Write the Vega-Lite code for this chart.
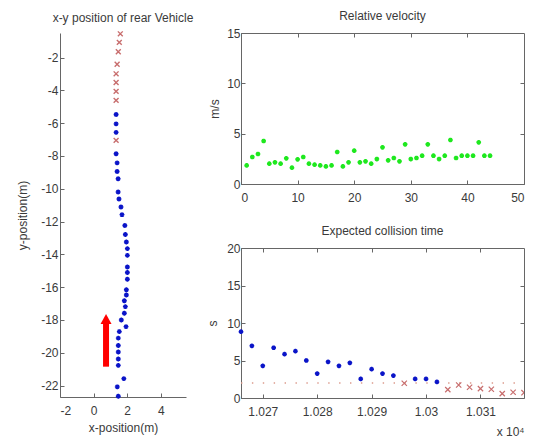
{
  "$schema": "https://vega.github.io/schema/vega-lite/v6.json",
  "background": "white",
  "padding": {"left": 16, "top": 9, "right": 2, "bottom": 2},
  "config": {
    "font": "Liberation Sans",
    "axis": {"labelFont": "Liberation Sans", "labelFontSize": 12, "labelColor": "#3a3a3a", "titleFont": "Liberation Sans", "titleFontSize": 12, "titleFontWeight": "normal", "titleColor": "#3a3a3a", "domainColor": "#666", "tickColor": "#666", "grid": false, "tickSize": -4, "labelPadding": 6, "titlePadding": 11, "labelOverlap": false},
    "axisX": {"labelPadding": 12},
    "title": {"font": "Liberation Sans", "fontSize": 12, "fontWeight": "normal", "color": "#3a3a3a", "offset": 4},
    "view": {"stroke": "#666", "strokeWidth": 1}
  },
  "datasets": {
    "path": [
      {"x": 1.59, "y": -0.55, "k": "r"}, {"x": 1.53, "y": -1.07, "k": "r"}, {"x": 1.47, "y": -1.64, "k": "r"}, {"x": 1.40, "y": -2.41, "k": "r"}, {"x": 1.34, "y": -2.99, "k": "r"}, {"x": 1.34, "y": -3.52, "k": "r"}, {"x": 1.34, "y": -4.06, "k": "r"}, {"x": 1.34, "y": -4.61, "k": "r"}, {"x": 1.34, "y": -7.05, "k": "r"},
      {"x": 1.34, "y": -5.47, "k": "b"}, {"x": 1.34, "y": -6.04, "k": "b"}, {"x": 1.34, "y": -6.56, "k": "b"}, {"x": 1.34, "y": -7.86, "k": "b"}, {"x": 1.40, "y": -8.42, "k": "b"}, {"x": 1.40, "y": -8.95, "k": "b"}, {"x": 1.46, "y": -9.39, "k": "b"}, {"x": 1.46, "y": -10.2, "k": "b"}, {"x": 1.51, "y": -10.62, "k": "b"}, {"x": 1.63, "y": -11.11, "k": "b"}, {"x": 1.69, "y": -11.58, "k": "b"}, {"x": 1.86, "y": -12.24, "k": "b"}, {"x": 1.89, "y": -12.79, "k": "b"}, {"x": 1.95, "y": -13.25, "k": "b"}, {"x": 2.01, "y": -13.65, "k": "b"}, {"x": 2.01, "y": -14.06, "k": "b"}, {"x": 2.01, "y": -14.77, "k": "b"}, {"x": 2.01, "y": -15.11, "k": "b"}, {"x": 2.01, "y": -15.52, "k": "b"}, {"x": 1.95, "y": -16.16, "k": "b"}, {"x": 1.95, "y": -16.48, "k": "b"}, {"x": 1.83, "y": -16.83, "k": "b"}, {"x": 1.89, "y": -17.19, "k": "b"}, {"x": 1.83, "y": -17.59, "k": "b"}, {"x": 1.65, "y": -18.0, "k": "b"}, {"x": 1.93, "y": -18.41, "k": "b"}, {"x": 1.53, "y": -18.71, "k": "b"}, {"x": 1.47, "y": -19.11, "k": "b"}, {"x": 1.47, "y": -19.56, "k": "b"}, {"x": 1.47, "y": -19.96, "k": "b"}, {"x": 1.47, "y": -20.38, "k": "b"}, {"x": 1.47, "y": -20.77, "k": "b"}, {"x": 1.80, "y": -21.58, "k": "b"}, {"x": 1.41, "y": -22.08, "k": "b"}, {"x": 1.47, "y": -22.65, "k": "b"}
    ],
    "arrow": [{"x": 0.74, "y": -20.85, "y2": -18.2, "yh": -17.94}],
    "vel": [
      {"t": 1, "v": 1.85}, {"t": 2, "v": 2.68}, {"t": 3, "v": 2.98}, {"t": 4, "v": 4.27}, {"t": 5, "v": 2.02}, {"t": 6, "v": 2.15}, {"t": 7, "v": 2.02}, {"t": 8, "v": 2.55}, {"t": 9, "v": 1.62}, {"t": 10, "v": 2.45}, {"t": 11, "v": 2.68}, {"t": 12, "v": 2.02}, {"t": 13, "v": 1.92}, {"t": 14, "v": 1.85}, {"t": 15, "v": 1.75}, {"t": 16, "v": 1.85}, {"t": 17, "v": 3.18}, {"t": 18, "v": 1.75}, {"t": 19, "v": 2.15}, {"t": 20, "v": 3.31}, {"t": 21, "v": 2.15}, {"t": 22, "v": 2.25}, {"t": 23, "v": 2.02}, {"t": 24, "v": 2.48}, {"t": 25, "v": 3.64}, {"t": 26, "v": 2.35}, {"t": 27, "v": 2.58}, {"t": 28, "v": 2.25}, {"t": 29, "v": 3.94}, {"t": 30, "v": 2.48}, {"t": 31, "v": 2.58}, {"t": 32, "v": 2.81}, {"t": 33, "v": 3.94}, {"t": 34, "v": 2.81}, {"t": 35, "v": 2.48}, {"t": 36, "v": 2.81}, {"t": 37, "v": 4.37}, {"t": 38, "v": 2.58}, {"t": 39, "v": 2.81}, {"t": 40, "v": 2.81}, {"t": 41, "v": 2.81}, {"t": 42, "v": 4.14}, {"t": 43, "v": 2.81}, {"t": 44, "v": 2.81}
    ],
    "ect_blue": [
      {"t": 10266, "s": 8.84}, {"t": 10268, "s": 6.96}, {"t": 10270, "s": 4.29}, {"t": 10272, "s": 6.70}, {"t": 10274, "s": 5.85}, {"t": 10276, "s": 6.25}, {"t": 10278, "s": 5.0}, {"t": 10280, "s": 3.26}, {"t": 10282, "s": 4.82}, {"t": 10284, "s": 4.29}, {"t": 10286, "s": 4.69}, {"t": 10288, "s": 2.54}, {"t": 10290, "s": 3.84}, {"t": 10292, "s": 3.26}, {"t": 10294, "s": 2.99}, {"t": 10298, "s": 2.54}, {"t": 10300, "s": 2.54}, {"t": 10302, "s": 2.14}
    ],
    "ect_red": [
      {"t": 10296, "s": 1.96}, {"t": 10304, "s": 1.12}, {"t": 10306, "s": 1.74}, {"t": 10308, "s": 1.43}, {"t": 10310, "s": 1.25}, {"t": 10312, "s": 1.16}, {"t": 10314, "s": 0.58}, {"t": 10316, "s": 0.76}, {"t": 10318, "s": 0.71}
    ],
    "thresh": [{"t": 10266, "s": 2}, {"t": 10318, "s": 2}]
  },
  "hconcat": [
    {
      "width": 126,
      "height": 364,
      "title": "x-y position of rear Vehicle",
      "view": {"stroke": null},
      "layer": [
        {
          "data": {"name": "path"},
          "mark": {"type": "point", "filled": false, "strokeWidth": 1.4, "size": 24, "opacity": 1},
          "encoding": {
            "x": {"field": "x", "type": "quantitative", "scale": {"domain": [-2, 5.5], "nice": false, "zero": false}, "axis": {"values": [-2, 0, 2, 4], "title": "x-position(m)", "labelExpr": "'' + datum.value", "titlePadding": 6}},
            "y": {"field": "y", "type": "quantitative", "scale": {"domain": [-22.7, -0.5], "nice": false, "zero": false}, "axis": {"tickCount": 11, "title": "y-position(m)", "labelExpr": "'' + datum.value", "labelOverlap": false, "labelBound": false, "labelFlush": false}},
            "shape": {"field": "k", "type": "nominal", "scale": {"domain": ["b", "r"], "range": ["M-1,0L1,0M0,-1L0,1M-0.7,-0.7L0.7,0.7M-0.7,0.7L0.7,-0.7", "M-1,-1L1,1M-1,1L1,-1"]}, "legend": null},
            "stroke": {"field": "k", "type": "nominal", "scale": {"domain": ["b", "r"], "range": ["#0a14c8", "#c86e6e"]}, "legend": null}
          }
        },
        {
          "data": {"name": "arrow"},
          "mark": {"type": "rule", "color": "#ff0000", "strokeWidth": 6, "strokeCap": "butt"},
          "encoding": {
            "x": {"field": "x", "type": "quantitative"},
            "y": {"field": "y", "type": "quantitative"},
            "y2": {"field": "y2"}
          }
        },
        {
          "data": {"name": "arrow"},
          "mark": {"type": "point", "shape": "M-1,0.9L0,-0.9L1,0.9Z", "filled": true, "color": "#ff0000", "size": 121, "opacity": 1},
          "encoding": {
            "x": {"field": "x", "type": "quantitative"},
            "y": {"field": "yh", "type": "quantitative"}
          }
        }
      ]
    },
    {
      "vconcat": [
        {
          "width": 283,
          "height": 151,
          "title": "Relative velocity",
          "layer": [
            {
              "data": {"name": "vel"},
              "mark": {"type": "point", "shape": "M-1,0L1,0M0,-1L0,1M-0.7,-0.7L0.7,0.7M-0.7,0.7L0.7,-0.7", "filled": false, "stroke": "#1ee81e", "strokeWidth": 1.5, "size": 22, "opacity": 1},
              "encoding": {
                "x": {"field": "t", "type": "quantitative", "scale": {"domain": [0, 50], "nice": false}, "axis": {"values": [0, 10, 20, 30, 40, 50], "title": null}},
                "y": {"field": "v", "type": "quantitative", "scale": {"domain": [0, 15], "nice": false}, "axis": {"values": [0, 5, 10, 15], "title": "m/s", "labelPadding": 5, "titlePadding": 5}}
              }
            },
            {
              "data": {"name": "vel"},
              "mark": {"type": "point", "opacity": 0},
              "encoding": {
                "x": {"field": "t", "type": "quantitative", "axis": {"orient": "top", "values": [10, 20, 30, 40], "labels": false, "domain": false, "title": null}},
                "y": {"field": "v", "type": "quantitative", "axis": {"orient": "right", "values": [5, 10], "labels": false, "domain": false, "title": null}}
              }
            }
          ],
          "resolve": {"axis": {"x": "independent", "y": "independent"}}
        },
        {
          "width": 283,
          "height": 150,
          "title": "Expected collision time",
          "layer": [
            {
              "data": {"name": "thresh"},
              "mark": {"type": "line", "stroke": "#dc9a8c", "strokeWidth": 1.3, "strokeDash": [1.4, 9.5]},
              "encoding": {
                "x": {"field": "t", "type": "quantitative", "scale": {"domain": [10266, 10318], "nice": false, "zero": false}, "axis": {"values": [10270, 10280, 10290, 10300, 10310], "labelExpr": "format(datum.value / 10000, '.4~f')", "title": "x 10⁴", "titleAnchor": "end", "titleAlign": "right", "titlePadding": 9}},
                "y": {"field": "s", "type": "quantitative", "scale": {"domain": [0, 20], "nice": false}, "axis": {"values": [0, 5, 10, 15, 20], "title": "s", "labelPadding": 5, "titlePadding": 7}}
              }
            },
            {
              "data": {"name": "ect_blue"},
              "mark": {"type": "point", "shape": "M-1,0L1,0M0,-1L0,1M-0.7,-0.7L0.7,0.7M-0.7,0.7L0.7,-0.7", "filled": false, "stroke": "#0a14c8", "strokeWidth": 1.5, "size": 22, "opacity": 1},
              "encoding": {
                "x": {"field": "t", "type": "quantitative", "axis": null},
                "y": {"field": "s", "type": "quantitative", "axis": null}
              }
            },
            {
              "data": {"name": "ect_red"},
              "mark": {"type": "point", "shape": "M-1,-1L1,1M-1,1L1,-1", "filled": false, "stroke": "#c86e6e", "strokeWidth": 1.2, "size": 28, "opacity": 1, "clip": true},
              "encoding": {
                "x": {"field": "t", "type": "quantitative", "axis": null},
                "y": {"field": "s", "type": "quantitative", "axis": null}
              }
            },
            {
              "data": {"name": "ect_blue"},
              "mark": {"type": "point", "opacity": 0},
              "encoding": {
                "x": {"field": "t", "type": "quantitative", "axis": {"orient": "top", "values": [10270, 10280, 10290, 10300, 10310], "labels": false, "domain": false, "title": null}},
                "y": {"field": "s", "type": "quantitative", "axis": {"orient": "right", "values": [5, 10, 15], "labels": false, "domain": false, "title": null}}
              }
            }
          ],
          "resolve": {"axis": {"x": "independent", "y": "independent"}}
        }
      ],
      "spacing": 64,
      "bounds": "flush"
    }
  ],
  "spacing": 55,
  "bounds": "flush"
}
